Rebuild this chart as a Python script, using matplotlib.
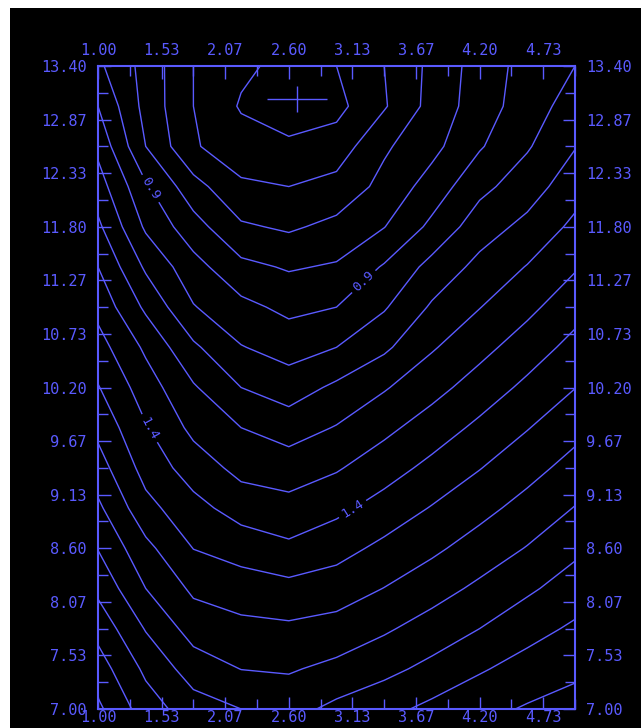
import matplotlib
matplotlib.use('Agg')
import matplotlib.pyplot as plt
from matplotlib.patches import Rectangle
from matplotlib.ticker import FixedLocator

plt.rcParams['font.family'] = 'DejaVu Sans Mono'
plt.rcParams['font.size'] = 11

# colours
blue = '#5a5aff'

# grid nodes of the field
x_nodes = [1.0, 1.4, 1.8, 2.2, 2.6, 3.0, 3.4, 3.8, 4.2, 4.6, 5.0]
y_nodes = [7.0, 7.4, 7.8, 8.2, 8.6, 9.0, 9.4, 9.8, 10.2, 10.6, 11.0,
           11.4, 11.8, 12.2, 12.6, 13.0, 13.4]

# field values, one row per y node (bottom row first)
z_rows = [
    [2.12, 1.95, 1.845, 1.80, 1.765, 1.825, 1.87, 1.925, 1.97, 2.01, 2.04],
    [2.048, 1.879, 1.752, 1.698, 1.69, 1.725, 1.772, 1.827, 1.889, 1.939, 1.978],
    [1.967, 1.793, 1.658, 1.627, 1.617, 1.637, 1.686, 1.742, 1.80, 1.864, 1.916],
    [1.876, 1.70, 1.581, 1.548, 1.53, 1.55, 1.602, 1.659, 1.72, 1.783, 1.847],
    [1.796, 1.627, 1.498, 1.459, 1.42, 1.464, 1.524, 1.58, 1.643, 1.705, 1.778],
    [1.72, 1.532, 1.433, 1.357, 1.333, 1.376, 1.44, 1.506, 1.569, 1.635, 1.704],
    [1.644, 1.462, 1.353, 1.27, 1.25, 1.29, 1.356, 1.427, 1.496, 1.565, 1.636],
    [1.573, 1.408, 1.274, 1.20, 1.155, 1.206, 1.275, 1.347, 1.422, 1.495, 1.568],
    [1.506, 1.349, 1.211, 1.10, 1.05, 1.12, 1.191, 1.266, 1.344, 1.423, 1.498],
    [1.44, 1.282, 1.118, 1.005, 0.96, 1.0, 1.081, 1.19, 1.269, 1.349, 1.432],
    [1.37, 1.181, 1.006, 0.928, 0.875, 0.90, 0.99, 1.113, 1.197, 1.275, 1.362],
    [1.30, 1.084, 0.937, 0.826, 0.79, 0.811, 0.91, 1.033, 1.128, 1.205, 1.29],
    [1.22, 0.984, 0.84, 0.714, 0.685, 0.727, 0.797, 0.923, 1.054, 1.127, 1.223],
    [1.147, 0.914, 0.738, 0.616, 0.60, 0.633, 0.73, 0.843, 0.972, 1.053, 1.157],
    [1.075, 0.80, 0.61, 0.545, 0.52, 0.545, 0.685, 0.77, 0.89, 0.99, 1.095],
    [1.00, 0.767, 0.60, 0.49, 0.44, 0.47, 0.59, 0.735, 0.851, 0.95, 1.046],
    [0.92, 0.765, 0.60, 0.52, 0.47, 0.50, 0.60, 0.725, 0.844, 0.937, 1.00],
]

# plain contour levels and the two labelled ones
plain_levels = [0.5, 0.6, 0.7, 0.8, 1.0, 1.1, 1.2, 1.3, 1.5,
                1.6, 1.7, 1.8, 1.9, 2.0, 2.1]
label_levels = [0.9, 1.4]
label_spots = [(1.44, 12.18), (3.24, 11.24), (1.44, 9.80), (3.13, 9.00)]

# location of the minimum (cross marker)
min_x, min_y = 2.67, 13.07

# axis ticks
x_major = [1.0, 1.5333, 2.0667, 2.6, 3.1333, 3.6667, 4.2, 4.7333]
x_labels = ['1.00', '1.53', '2.07', '2.60', '3.13', '3.67', '4.20', '4.73']
x_minor = [1.2667, 1.8, 2.3333, 2.8667, 3.4, 3.9333, 4.4667, 5.0]
y_major = [7.0, 7.5333, 8.0667, 8.6, 9.1333, 9.6667, 10.2, 10.7333,
           11.2667, 11.8, 12.3333, 12.8667, 13.4]
y_labels = ['7.00', '7.53', '8.07', '8.60', '9.13', '9.67', '10.20', '10.73',
            '11.27', '11.80', '12.33', '12.87', '13.40']
y_minor = [7.2667, 7.8, 8.3333, 8.8667, 9.4, 9.9333, 10.4667, 11.0,
           11.5333, 12.0667, 12.6, 13.1333]

fig = plt.figure(figsize=(6.41, 7.28), dpi=100, facecolor='black')
# white strips along the top and left edge of the screenshot
fig.patches.append(Rectangle((0, 1 - 8 / 728), 1, 8 / 728, transform=fig.transFigure,
                             facecolor='white', edgecolor='none', zorder=0))
fig.patches.append(Rectangle((0, 0), 10 / 641, 1, transform=fig.transFigure,
                             facecolor='white', edgecolor='none', zorder=0))

ax = fig.add_axes([98 / 641, 1 - 709 / 728, 477 / 641, 643 / 728])
ax.set_facecolor('black')

ax.contour(x_nodes, y_nodes, z_rows, levels=plain_levels, colors=blue,
           linewidths=1.0)
cs = ax.contour(x_nodes, y_nodes, z_rows, levels=label_levels, colors=blue,
                linewidths=1.0)
ax.clabel(cs, manual=label_spots, fmt='%.1f', fontsize=9.5, colors=blue,
          inline=True, inline_spacing=4)

# cross at the minimum
ax.errorbar(min_x, min_y, xerr=0.25, yerr=0.13, fmt='none', ecolor=blue,
            elinewidth=1.0, capsize=0)

ax.set_xlim(1.0, 5.0)
ax.set_ylim(7.0, 13.4)

ax.xaxis.set_major_locator(FixedLocator(x_major))
ax.xaxis.set_minor_locator(FixedLocator(x_minor))
ax.set_xticklabels(x_labels)
ax.yaxis.set_major_locator(FixedLocator(y_major))
ax.yaxis.set_minor_locator(FixedLocator(y_minor))
ax.set_yticklabels(y_labels)

for s in ax.spines.values():
    s.set_color(blue)
    s.set_linewidth(1.5)

ax.tick_params(which='both', direction='in', top=True, right=True,
               labeltop=False, labelright=True, color=blue, labelcolor=blue,
               width=1.0)
ax.tick_params(which='major', length=9)
ax.tick_params(which='minor', length=7)
ax.tick_params(axis='y', which='major', pad=8)
ax.tick_params(axis='x', which='major', pad=1)

# top labels sit a little further from the frame than the bottom ones
top = ax.secondary_xaxis('top')
top.set_xticks(x_major, x_labels)
top.tick_params(length=0, pad=6, labelcolor=blue)
top.spines['top'].set_visible(False)

fig.savefig('out.png', dpi=100, facecolor=fig.get_facecolor())
